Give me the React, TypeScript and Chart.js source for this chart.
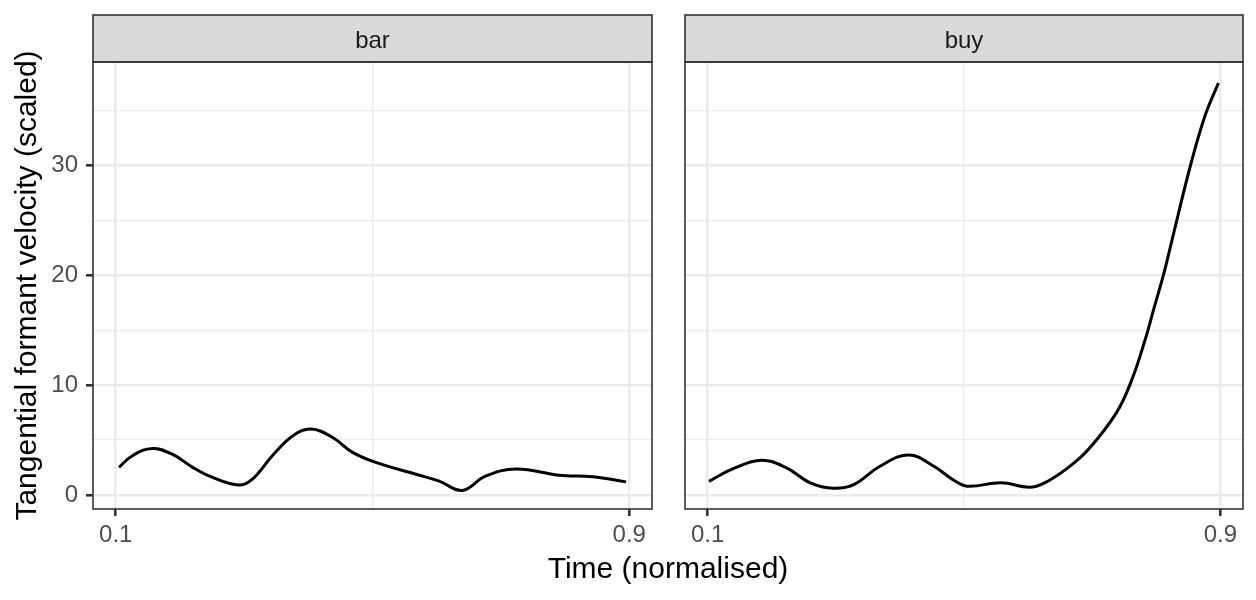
import React, { useEffect, useRef } from "react";
import { Chart, registerables } from "chart.js";

Chart.register(...registerables);

// ---- data ----
const panelLabels = ["bar", "buy"];

const barTime = [0.105, 0.126, 0.157, 0.188, 0.22, 0.251, 0.292, 0.313, 0.344, 0.376, 0.404, 0.438, 0.469, 0.505, 0.569, 0.604, 0.64, 0.676, 0.724, 0.79, 0.843, 0.895];
const barVelocity = [2.52, 3.58, 4.24, 3.72, 2.52, 1.6, 0.91, 1.45, 3.58, 5.4, 6.0, 5.24, 3.88, 2.97, 1.87, 1.27, 0.42, 1.72, 2.38, 1.81, 1.66, 1.2];

const buyTime = [0.102, 0.139, 0.184, 0.223, 0.26, 0.296, 0.328, 0.369, 0.414, 0.453, 0.484, 0.505, 0.558, 0.602, 0.626, 0.662, 0.694, 0.738, 0.762, 0.783, 0.796, 0.812, 0.825, 0.853, 0.876, 0.897];
const buyVelocity = [1.25, 2.38, 3.17, 2.47, 1.11, 0.62, 0.95, 2.62, 3.65, 2.62, 1.35, 0.8, 1.11, 0.71, 1.11, 2.47, 4.14, 7.5, 10.5, 14.2, 16.9, 20.2, 23.3, 29.9, 34.5, 37.5];

const xGridTicks = [0.1, 0.5, 0.9];
const xLabelledTicks = [0.1, 0.9];
const yGridTicks = [0, 5, 10, 15, 20, 25, 30, 35];
const yLabelledTicks = [0, 10, 20, 30];

const yTitle = "Tangential formant velocity (scaled)";
const xTitle = "Time (normalised)";

const X_MIN = 0.0646;
const X_MAX = 0.9354;
const Y_MIN = -1.27;
const Y_MAX = 39.41;

const FONT = "'Liberation Sans', Arial, Helvetica, sans-serif";
const W = 1256;
const H = 600;

const facetPlugin = {
  id: "facet",
  afterDraw(chart: any, _args: any, opts: any) {
    const { ctx, chartArea: a } = chart;
    ctx.save();
    // strip
    ctx.fillStyle = "#D9D9D9";
    ctx.fillRect(a.left, 15, a.right - a.left, a.top - 15);
    ctx.strokeStyle = "#333333";
    ctx.lineWidth = 1.6;
    ctx.strokeRect(a.left, 15, a.right - a.left, a.top - 15);
    ctx.fillStyle = "#1A1A1A";
    ctx.font = `24px ${FONT}`;
    ctx.textAlign = "center";
    ctx.textBaseline = "alphabetic";
    ctx.fillText(opts.label, (a.left + a.right) / 2, 47.5);
    // panel border
    ctx.strokeStyle = "#333333";
    ctx.lineWidth = 1.6;
    ctx.strokeRect(a.left, a.top, a.right - a.left, a.bottom - a.top);
    if (opts.xTitle) {
      ctx.fillStyle = "#000000";
      ctx.font = `30px ${FONT}`;
      ctx.textAlign = "center";
      ctx.textBaseline = "alphabetic";
      ctx.fillText(opts.xTitle, 668, 578);
    }
    ctx.restore();
  },
};

function makeConfig(idx: number): any {
  const isLeft = idx === 0;
  const xs = isLeft ? barTime : buyTime;
  const ys = isLeft ? barVelocity : buyVelocity;
  return {
    type: "line",
    data: {
      datasets: [
        {
          data: xs.map((x, i) => ({ x, y: ys[i] })),
          borderColor: "#000000",
          borderWidth: 3,
          pointRadius: 0,
          fill: false,
          tension: 0.4,
        },
      ],
    },
    plugins: [facetPlugin],
    options: {
      animation: false,
      responsive: false,
      devicePixelRatio: 1,
      events: [],
      layout: {
        padding: isLeft
          ? { left: 0, right: W - 652, top: 62, bottom: 0 }
          : { left: 685, right: W - 1243, top: 62, bottom: 0 },
      },
      plugins: {
        legend: { display: false },
        tooltip: { enabled: false },
        facet: { label: panelLabels[idx], xTitle: isLeft ? xTitle : null },
      },
      scales: {
        x: {
          type: "linear",
          min: X_MIN,
          max: X_MAX,
          afterBuildTicks: (s: any) => {
            s.ticks = xGridTicks.map((v) => ({ value: v }));
          },
          afterFit: (s: any) => {
            s.height = H - 509;
          },
          border: { display: false },
          grid: {
            color: "#EBEBEB",
            lineWidth: (c: any) => (c.tick && xLabelledTicks.includes(c.tick.value) ? 2.6 : 1.3),
            drawTicks: true,
            tickLength: 7,
            tickWidth: 2.6,
            tickColor: (c: any) => (c.tick && xLabelledTicks.includes(c.tick.value) ? "#333333" : "rgba(0,0,0,0)"),
          },
          ticks: {
            autoSkip: false,
            maxRotation: 0,
            padding: 5,
            color: "#4D4D4D",
            font: { size: 24, family: FONT },
            callback: (v: number) => (xLabelledTicks.includes(v) ? String(v) : ""),
          },
        },
        y: {
          type: "linear",
          min: Y_MIN,
          max: Y_MAX,
          afterBuildTicks: (s: any) => {
            s.ticks = yGridTicks.map((v) => ({ value: v }));
          },
          afterFit: (s: any) => {
            s.width = isLeft ? 93 : 0;
          },
          border: { display: false },
          grid: {
            color: "#EBEBEB",
            lineWidth: (c: any) => (c.tick && yLabelledTicks.includes(c.tick.value) ? 2.6 : 1.3),
            drawTicks: isLeft,
            tickLength: 7,
            tickWidth: 2.6,
            tickColor: (c: any) => (c.tick && yLabelledTicks.includes(c.tick.value) ? "#333333" : "rgba(0,0,0,0)"),
          },
          ticks: {
            display: isLeft,
            autoSkip: false,
            padding: 8,
            color: "#4D4D4D",
            font: { size: 24, family: FONT },
            callback: (v: number) => (yLabelledTicks.includes(v) ? String(v) : ""),
          },
          title: {
            display: isLeft,
            text: yTitle,
            color: "#000000",
            font: { size: 30, family: FONT },
            padding: { top: 10, bottom: 0 },
          },
        },
      },
    },
  };
}

export default function App() {
  const leftRef = useRef<HTMLCanvasElement | null>(null);
  const rightRef = useRef<HTMLCanvasElement | null>(null);

  useEffect(() => {
    const charts: Chart[] = [];
    if (leftRef.current) charts.push(new Chart(leftRef.current, makeConfig(0)));
    if (rightRef.current) charts.push(new Chart(rightRef.current, makeConfig(1)));
    return () => {
      charts.forEach((c) => c.destroy());
    };
  }, []);

  const canvasStyle: React.CSSProperties = {
    position: "absolute",
    left: 0,
    top: 0,
    width: W,
    height: H,
    display: "block",
  };

  return (
    <div
      style={{
        position: "fixed",
        left: 0,
        top: 0,
        width: W,
        height: H,
        background: "#FFFFFF",
        overflow: "hidden",
      }}
    >
      <canvas ref={leftRef} width={W} height={H} style={canvasStyle} />
      <canvas ref={rightRef} width={W} height={H} style={canvasStyle} />
    </div>
  );
}
